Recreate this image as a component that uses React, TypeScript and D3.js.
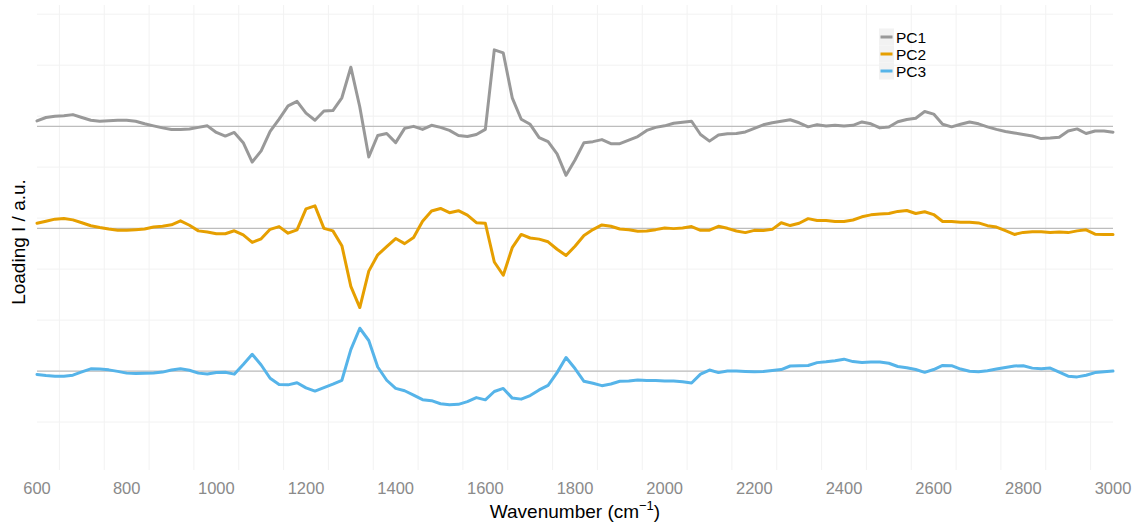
import React from "react";
import * as d3 from "d3";

// wavenumber grid (cm-1), one reading every 20 cm-1
const wavenumbers = d3.range(600, 3001, 20);
const xTicks = [600, 800, 1000, 1200, 1400, 1600, 1800, 2000, 2200, 2400, 2600, 2800, 3000];
const xGrid = d3.range(650, 3000, 100);
const yGrid = [-200, -150, -100, -50, 0, 50, 100, 150, 200];

const seriesNames = ["PC1", "PC2", "PC3"];
const seriesColors = ["#999999", "#E69F00", "#56B4E9"];
const seriesOffsets = [90, -10, -150];

// loadings, a.u.
const pc1 = [
  5.3, 8.7, 10, 10.5, 11.5, 8.7, 6, 5, 5.5, 6,
  6, 5, 2.5, 0.5, -1.5, -3, -3, -2.5, -1, 0.5,
  -6, -9.5, -6, -16, -35, -24, -5, 7, 20, 24.5,
  13, 6, 15, 15.5, 28, 58, 19, -30, -9, -7,
  -16, -2, 0, -3, 1, -1, -4, -9, -10, -8,
  -3, 75, 72, 28, 7, 2, -11, -15, -27, -48,
  -33, -16, -15, -13, -17, -17, -13.5, -10, -4, -1,
  0.5, 3, 4, 5, -8, -14.5, -8.5, -7.3, -7, -5.5,
  -2, 1.5, 3.5, 5, 6.5, 3.5, -0.5, 1.7, 0.3, 1,
  0.3, 1, 4.3, 2.5, -1.5, -0.7, 4.5, 6.7, 8, 14.5,
  12, 2, -0.5, 2, 4.3, 2.5, -0.5, -3, -5, -6.5,
  -8, -9.5, -12, -11.5, -10.7, -4.5, -2.5, -7, -4.5, -4.5,
  -5.7,
];

const pc2 = [
  5, 7, 9, 9.7, 8.3, 5.5, 2.5, 0.8, -0.7, -1.8,
  -2, -1.3, -0.7, 1.3, 2, 3.5, 7.3, 3, -2.5, -3.6,
  -5.3, -5.3, -2.4, -6.5, -13.8, -10.3, -1, 1.7, -4.8, -1.5,
  19, 22, 0, -2.5, -17, -57, -77.7, -42, -26, -18,
  -10, -15, -9, 7, 17, 19.5, 15.3, 17.3, 13, 5.5,
  5, -33, -46, -19, -6, -9.5, -10.6, -13.2, -20.5, -26.7,
  -17.5, -7, -1.2, 3.3, 2, -0.7, -1.5, -2.8, -2.7, -1.3,
  0.4, -0.3, 0.3, 1.7, -2, -1.8, 2, 0, -2.6, -4.2,
  -2, -2.2, -1, 5.5, 2.7, 5, 9.5, 7.7, 7.7, 6.8,
  6.7, 8.2, 11.3, 13.2, 14, 14.6, 16.6, 17.5, 14.5, 16.3,
  13.5, 6.7, 6.7, 6, 6, 5.3, 2.6, 1.2, -2.3, -6,
  -4, -3.4, -3.3, -4, -3.7, -4.2, -2.5, -1.5, -5.7, -6,
  -6,
];

const pc3 = [
  -3.3, -4.4, -5, -5, -4, -0.8, 2.2, 2, 1.2, -0.3,
  -2, -2.3, -2.1, -1.8, -1, 1, 2.3, 0.8, -2, -2.8,
  -1.4, -1.2, -3, 6.5, 16.5, 6, -7, -13.2, -13.5, -11.4,
  -16.5, -19.6, -16.2, -12.8, -9, 21, 42, 30, 4, -9,
  -17, -19.3, -23.5, -28, -29, -32, -33, -32.6, -30, -26,
  -28.2, -20, -17, -26.5, -27.5, -24, -18.5, -14, -1.5, 13.3,
  2.5, -10, -12, -14.3, -12.7, -10, -9.7, -8.7, -9.3, -9.3,
  -9.8, -9.8, -10.5, -11.7, -3, 1, -1.5, 0, 0, -0.4,
  -0.7, -0.4, 0.6, 1.5, 5, 5.2, 5.5, 8.3, 9.1, 10.2,
  11.7, 9.3, 8.5, 8.8, 8.9, 7.7, 4.5, 3.3, 1.5, -1.2,
  1.5, 5.5, 5.3, 2, -0.2, -0.6, 0.4, 2, 3.6, 5,
  5.3, 2.9, 2.3, 3, -1, -5, -5.7, -4.1, -1.5, -0.6,
  0,
];

const seriesValues = [pc1, pc2, pc3];

const W = 1135;
const H = 524;
const font = "'Liberation Sans', Arial, Helvetica, sans-serif";

export default function App() {
  const x = d3.scaleLinear().domain([600, 3000]).range([37, 1113]);
  const y = d3.scaleLinear().domain([-247, 209]).range([470, 5]);

  const lines = seriesValues.map((vals, i) =>
    d3
      .line<number>()
      .x((_, j) => x(wavenumbers[j]))
      .y((v) => y(v + seriesOffsets[i]))(vals)
  );

  return (
    <div style={{ position: "absolute", left: 0, top: 0, width: W, height: H, overflow: "hidden", background: "#fff" }}>
      <svg width={W} height={H} style={{ display: "block" }} fontFamily={font}>
        {/* panel grid */}
        {xGrid.map((g) => (
          <line key={"gx" + g} x1={x(g)} x2={x(g)} y1={5} y2={470} stroke="#f2f2f2" strokeWidth={1} />
        ))}
        {yGrid.map((g) => (
          <line key={"gy" + g} x1={37} x2={1113} y1={y(g)} y2={y(g)} stroke="#f2f2f2" strokeWidth={1} />
        ))}

        {/* zero lines for each component */}
        {seriesOffsets.map((o, i) => (
          <line key={"z" + i} x1={37} x2={1113} y1={y(o)} y2={y(o)} stroke="#bdbdbd" strokeWidth={1.2} />
        ))}

        {lines.map((d, i) => (
          <path
            key={seriesNames[i]}
            d={d || ""}
            fill="none"
            stroke={seriesColors[i]}
            strokeWidth={3}
            strokeLinejoin="round"
            strokeLinecap="round"
          />
        ))}

        {/* x axis labels */}
        {xTicks.map((t) => (
          <text key={"t" + t} x={x(t)} y={494} textAnchor="middle" fontSize={16.5} fill="#8a8a8a">
            {t}
          </text>
        ))}

        <text x={575} y={518} textAnchor="middle" fontSize={19} fill="#000">
          Wavenumber (cm
          <tspan dy={-8} fontSize={13}>−1</tspan>
          <tspan dy={8}>)</tspan>
        </text>

        <text transform="translate(25,242) rotate(-90)" textAnchor="middle" fontSize={19} fill="#000">
          Loading I / a.u.
        </text>

        {/* legend */}
        {seriesNames.map((n, i) => {
          const cy = 37 + i * 17;
          return (
            <g key={"lg" + n}>
              <rect x={879} y={cy - 8.5} width={15} height={17} fill="#f2f2f2" />
              <line x1={880.5} x2={892.5} y1={cy} y2={cy} stroke={seriesColors[i]} strokeWidth={3} />
              <text x={896} y={cy} dominantBaseline="central" fontSize={15.5} fill="#000">
                {n}
              </text>
            </g>
          );
        })}
      </svg>
    </div>
  );
}
